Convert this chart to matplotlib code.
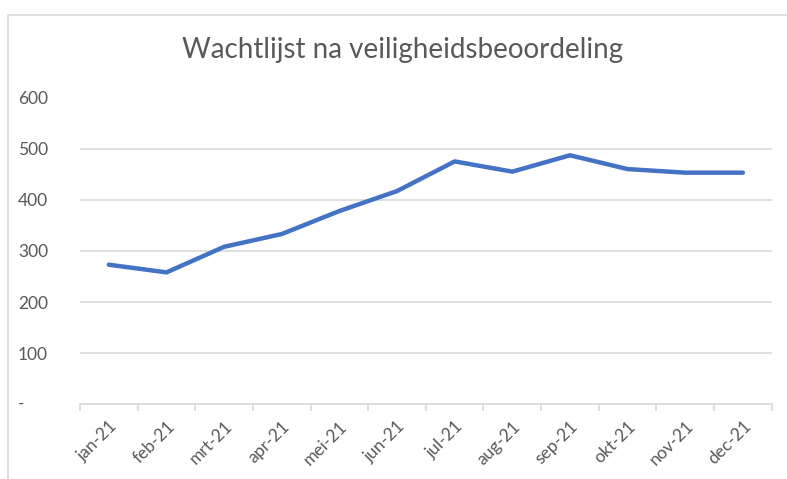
import matplotlib
matplotlib.use("Agg")
import matplotlib.pyplot as plt
from matplotlib.patches import Rectangle
from matplotlib.transforms import ScaledTranslation

months = ["jan-21", "feb-21", "mrt-21", "apr-21", "mei-21", "jun-21",
          "jul-21", "aug-21", "sep-21", "okt-21", "nov-21", "dec-21"]
wachtlijst = [273, 258, 308, 333, 378, 417, 475, 455, 487, 460, 453, 453]
yticks = [0, 100, 200, 300, 400, 500, 600]
ytick_labels = ["-", "100", "200", "300", "400", "500", "600"]
title = "Wachtlijst na veiligheidsbeoordeling"

plt.rcParams['font.family'] = ['Lato', 'DejaVu Sans']
W, H = 787, 479
fig = plt.figure(figsize=(W / 100, H / 100), dpi=100)

# chart area border
fig.patches.append(Rectangle((8 / W, -0.1), 1.2, 1 - 15 / H + 0.1,
                             transform=fig.transFigure, fill=False,
                             edgecolor="#d9d9d9", linewidth=1.2))

left, right, top, bottom = 80, 771.7, 97.5, 404.3
ax = fig.add_axes([left / W, 1 - bottom / H, (right - left) / W, (bottom - top) / H])

x = list(range(len(months)))
ax.plot(x, wachtlijst, color="#4472C4", linewidth=3.2, solid_capstyle="round",
        solid_joinstyle="round", zorder=3)

ax.set_xlim(-0.5, len(months) - 0.5)
ax.set_ylim(0, 600)
ax.set_yticks(yticks)
ax.set_yticklabels(ytick_labels)
ax.yaxis.grid(True, color="#d9d9d9", linewidth=1.2)
ax.set_axisbelow(True)
for s in ["top", "right", "left"]:
    ax.spines[s].set_visible(False)
ax.spines["bottom"].set_color("#d9d9d9")
ax.spines["bottom"].set_linewidth(1.2)
ax.tick_params(axis="y", length=0, pad=23, labelsize=12.5, labelcolor="#595959")

ax.set_xticks(x)
ax.set_xticklabels(months, rotation=45, ha="right", va="top", rotation_mode="anchor")
ax.set_xticks([i - 0.5 for i in range(len(months) + 1)], minor=True)
ax.tick_params(axis="x", which="major", length=0, pad=10, labelsize=12.5, labelcolor="#595959")
ax.tick_params(axis="x", which="minor", length=5, color="#d9d9d9", width=1.2)

# shift the "-" zero label to the left like Excel's accounting format
lbl0 = ax.get_yticklabels()[0]
lbl0.set_transform(lbl0.get_transform() + ScaledTranslation(-0.24, 0.02, fig.dpi_scale_trans))

fig.text(403 / W, 1 - 50 / H, title, ha="center", va="center",
         fontsize=20, color="#595959")

fig.savefig("out.png", dpi=100)
